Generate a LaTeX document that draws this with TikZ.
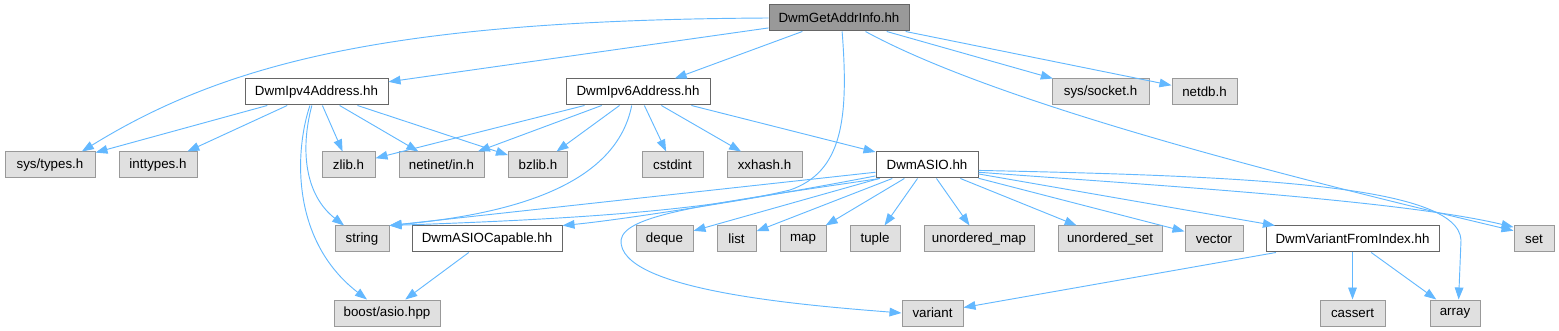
\documentclass[tikz,border=0pt]{standalone}
\usepackage{fontspec}
\setmainfont{Liberation Sans}
\usepackage{tikz}
\usetikzlibrary{arrows.meta}

\definecolor{edgeblue}{HTML}{63B8FF}
\definecolor{rootfill}{HTML}{999999}
\definecolor{extfill}{HTML}{E0E0E0}
\definecolor{darkline}{HTML}{666666}
\definecolor{lightline}{HTML}{999999}

\tikzset{
  box/.style={rectangle, inner sep=0pt, minimum height=19.5pt, line width=0.75pt,
              font=\fontsize{10}{12}\selectfont},
  wd/.style={minimum width=#1*0.75pt},
  root/.style={box, fill=rootfill, draw=darkline},
  doc/.style={box, fill=white, draw=darkline},
  ext/.style={box, fill=extfill, draw=lightline},
  inc/.style={draw=edgeblue, line width=0.7pt,
              -{Triangle[length=9pt,width=6.5pt]}, color=edgeblue},
}

\begin{document}
\begin{tikzpicture}[x=0.75pt, y=-0.75pt]
        \useasboundingbox (0,0) rectangle (1559,331);

            \node[root, wd=140] (top) at (839,18) {DwmGetAddrInfo.hh};

            \node[doc, wd=143] (ipv4) at (316.5,92) {DwmIpv4Address.hh};
            \node[doc, wd=144] (ipv6) at (638,92) {DwmIpv6Address.hh};
            \node[ext, wd=97] (socket) at (1100.5,92) {sys/socket.h};
            \node[ext, wd=65] (netdb) at (1204.5,92) {netdb.h};

            \node[ext, wd=90] (types) at (50,165) {sys/types.h};
            \node[ext, wd=78] (inttypes) at (158,165) {inttypes.h};
            \node[ext, wd=53] (zlib) at (348.5,165) {zlib.h};
            \node[ext, wd=85] (netinet) at (441.5,165) {netinet/in.h};
            \node[ext, wd=59] (bzlib) at (538,165) {bzlib.h};
            \node[ext, wd=61] (cstdint) at (672.5,165) {cstdint};
            \node[ext, wd=75] (xxhash) at (764.5,165) {xxhash.h};
            \node[doc, wd=102] (asio) at (927,165) {DwmASIO.hh};

            \node[ext, wd=54] (string) at (362,239) {string};
            \node[doc, wd=150] (capable) at (487,239) {DwmASIOCapable.hh};
            \node[ext, wd=57] (deque) at (664.5,239) {deque};
            \node[ext, wd=39] (list) at (736.5,239) {list};
            \node[ext, wd=46] (map) at (803,239) {map};
            \node[ext, wd=50] (tuple) at (875,239) {tuple};
            \node[ext, wd=110] (umap) at (979,239) {unordered\_map};
            \node[ext, wd=104] (uset) at (1110,239) {unordered\_set};
            \node[ext, wd=58] (vector) at (1214,239) {vector};
            \node[doc, wd=173] (varidx) at (1352.5,239) {DwmVariantFromIndex.hh};
            \node[ext, wd=40] (set) at (1534,239) {set};

            \node[ext, wd=106] (boost) at (387,313) {boost/asio.hpp};
            \node[ext, wd=61] (variant) at (932.5,313) {variant};
            \node[ext, wd=65] (cassert) at (1352.5,313) {cassert};
            \node[ext, wd=50] (array) at (1455,313) {array};

            \draw[inc] (top.west) .. controls (400,20) and (230,60) .. (types.23);
            \draw[inc] (top) -- (ipv4);
            \draw[inc] (top) -- (ipv6);
            \draw[inc] (top.-77) .. controls (849,120) and (842,172) .. (790,190)
                .. controls (700,212) and (550,220) .. (string.north east);
            \draw[inc] (top) -- (socket);
            \draw[inc] (top) -- (netdb);
            \draw[inc] (top.-27) .. controls (1000,105) and (1300,180) .. (set.158);

            \draw[inc] (ipv4) -- (types);
            \draw[inc] (ipv4) -- (inttypes);
            \draw[inc] (ipv4) -- (zlib);
            \draw[inc] (ipv4) -- (netinet);
            \draw[inc] (ipv4) -- (bzlib);
            \draw[inc] (ipv4.-109) .. controls (300,150) and (305,195) .. (string.143);
            \draw[inc] (ipv4.-116) .. controls (295,150) and (290,240) .. (boost.146);

            \draw[inc] (ipv6) -- (zlib);
            \draw[inc] (ipv6) -- (netinet);
            \draw[inc] (ipv6) -- (bzlib);
            \draw[inc] (ipv6.-115) .. controls (615,190) and (500,215) .. (string.north east);
            \draw[inc] (ipv6) -- (cstdint);
            \draw[inc] (ipv6) -- (xxhash);
            \draw[inc] (ipv6) -- (asio);

            \draw[inc] (asio.188) -- (string.north east);
            \draw[inc] (asio.192) .. controls (750,200) and (620,220) .. (capable.north east);
            \draw[inc] (asio.196) .. controls (700,205) and (625,215) .. (621,240)
                .. controls (618,290) and (800,305) .. (variant.west);
            \draw[inc] (asio) -- (deque);
            \draw[inc] (asio) -- (list);
            \draw[inc] (asio) -- (map);
            \draw[inc] (asio) -- (tuple);
            \draw[inc] (asio) -- (umap);
            \draw[inc] (asio) -- (uset);
            \draw[inc] (asio) -- (vector);
            \draw[inc] (asio) -- (varidx);
            \draw[inc] (asio.-8) .. controls (1150,185) and (1400,200) .. (set.150);
            \draw[inc] (asio.-6) .. controls (1250,176) and (1458,185) .. (1461,240) -- (array.75);

            \draw[inc] (capable) -- (boost);

            \draw[inc] (varidx) -- (variant);
            \draw[inc] (varidx) -- (cassert);
            \draw[inc] (varidx) -- (array);
\end{tikzpicture}
\end{document}
